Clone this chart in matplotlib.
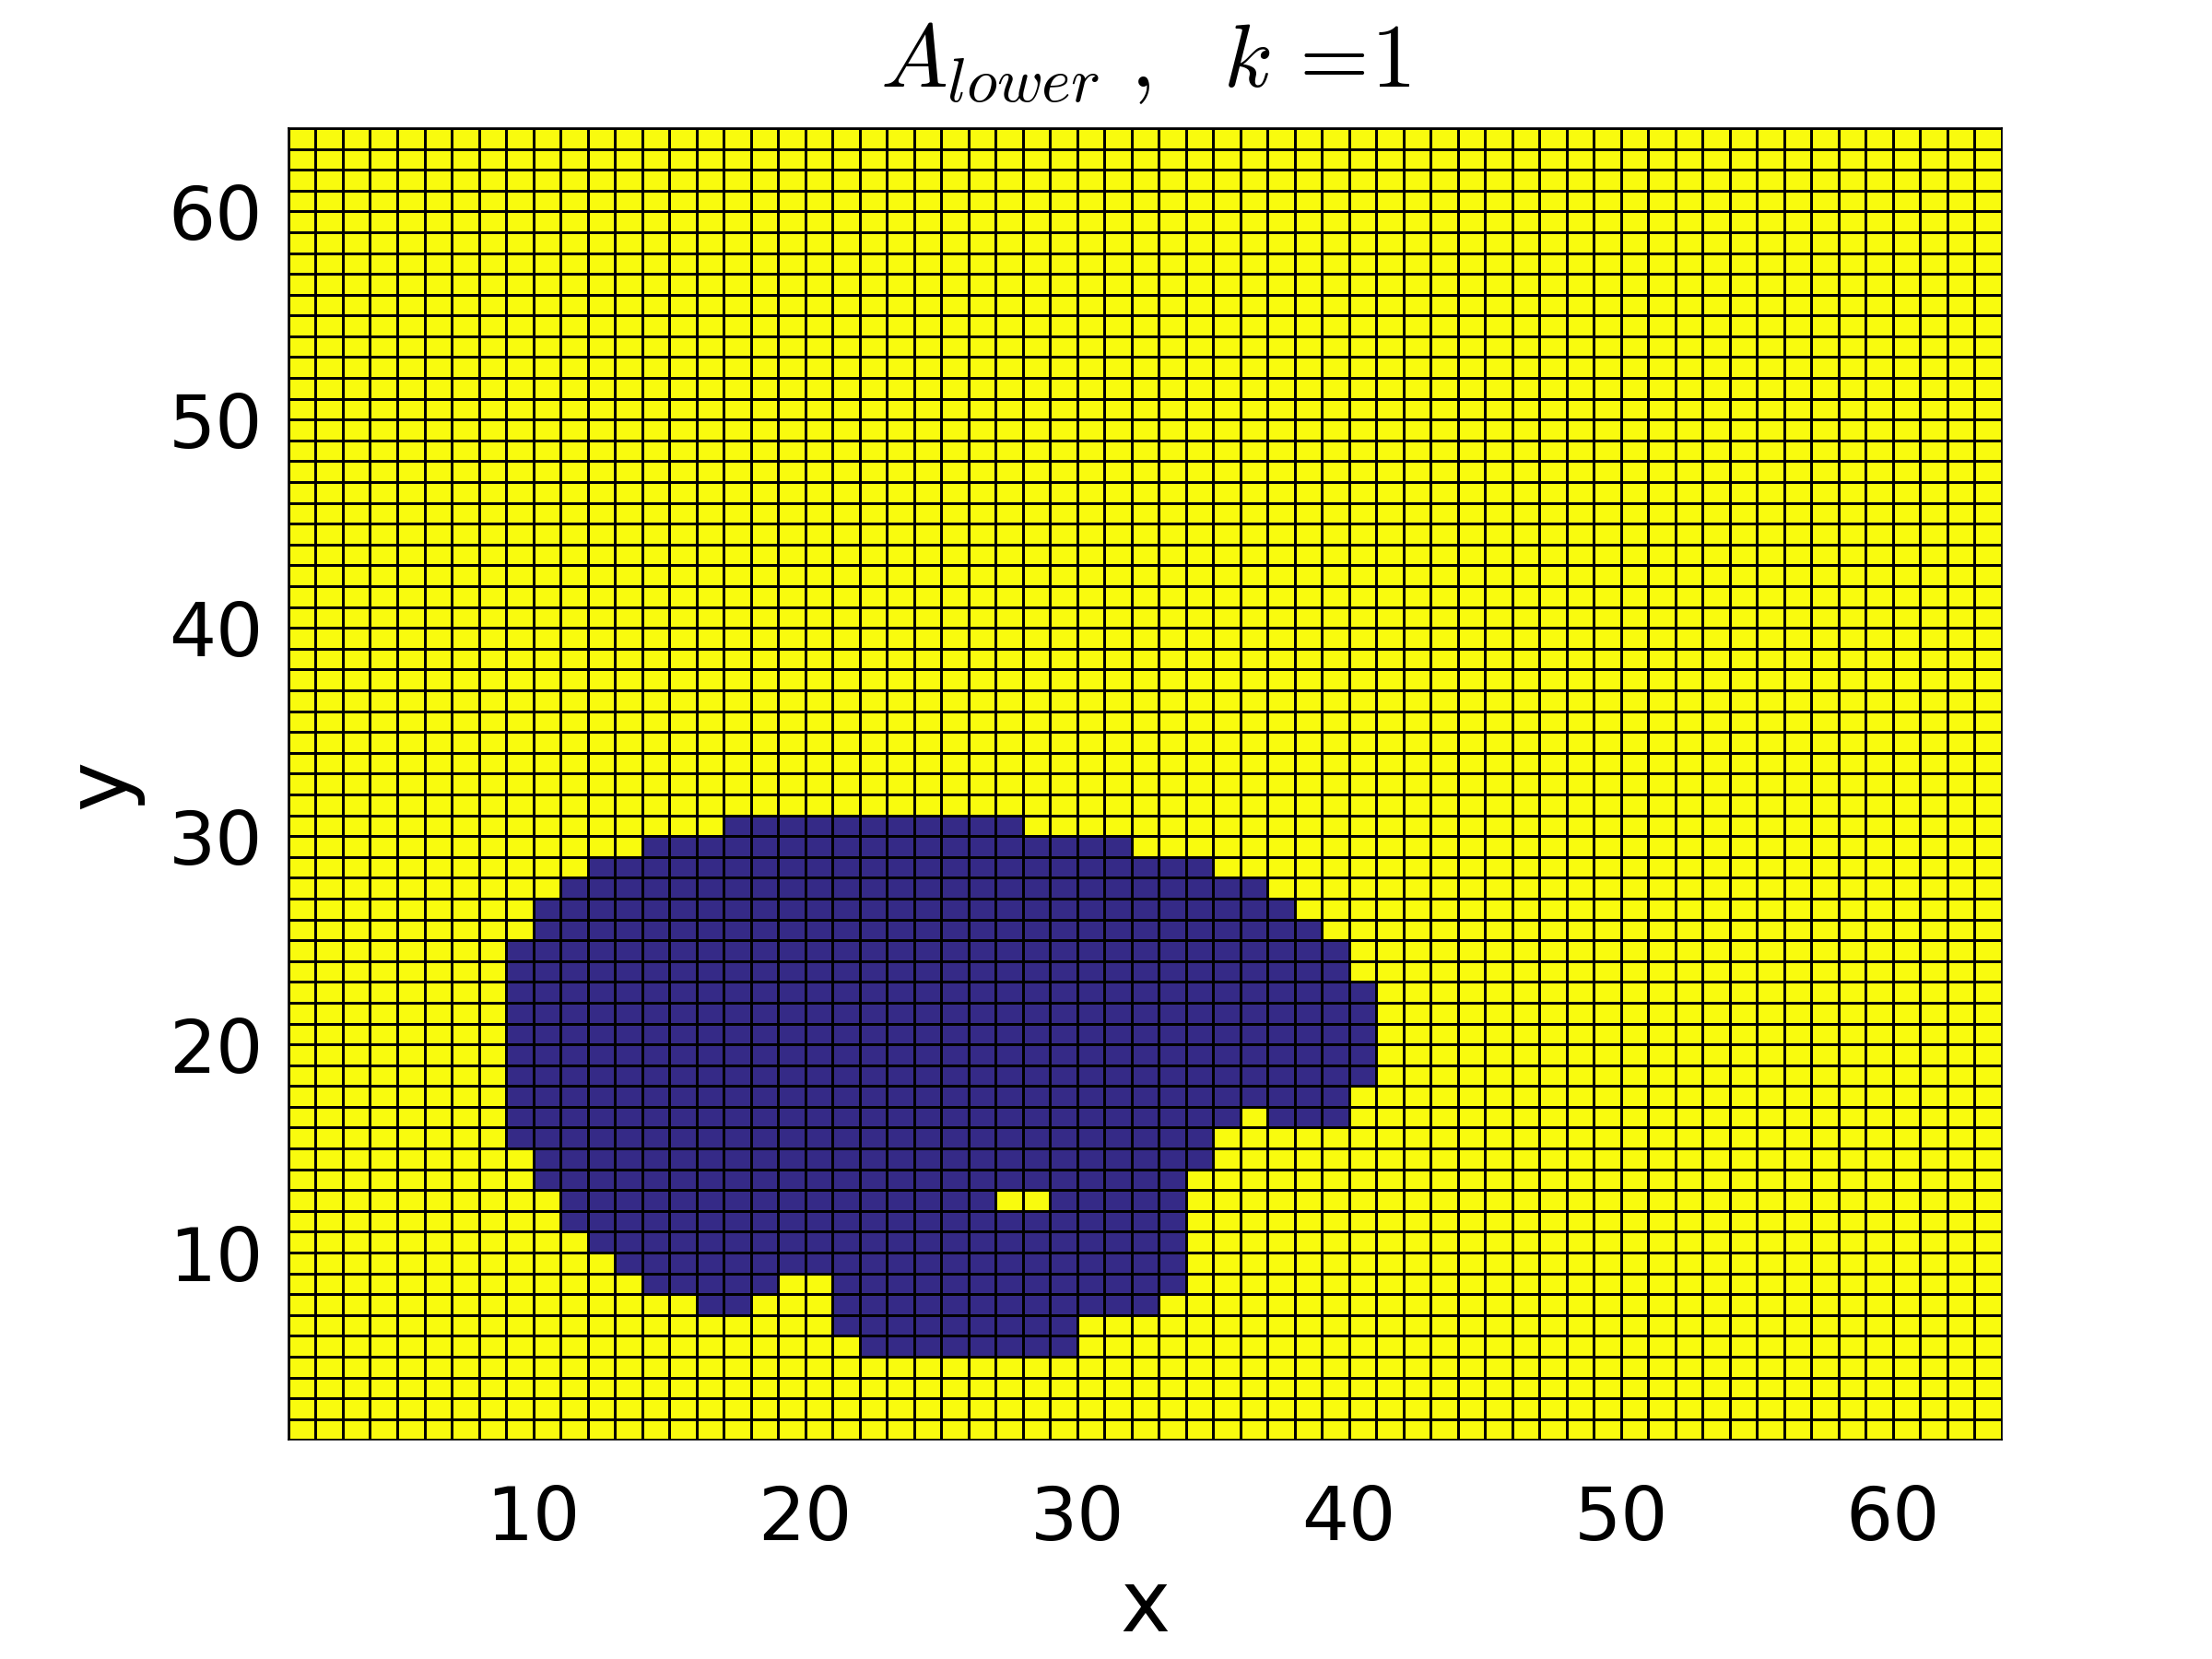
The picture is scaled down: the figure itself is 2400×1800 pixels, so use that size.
import numpy as np
import matplotlib
matplotlib.use("Agg")
import matplotlib.pyplot as plt
from matplotlib.colors import ListedColormap

plt.rcParams["mathtext.fontset"] = "cm"

# Grid definition (MATLAB-style pcolor on a 64x64 grid -> 63x63 cells)
n_nodes = 64

# Blob (value 0) given as runs of cell indices (inclusive) per cell row y
row_y = [30, 29, 28, 27, 26, 25, 24, 23, 22, 21, 20, 19, 18, 17, 16, 15, 14,
         13, 12, 11, 10, 9, 8, 7, 6, 5]
row_runs = [
    [(17, 27)],
    [(14, 31)],
    [(12, 34)],
    [(11, 36)],
    [(10, 37)],
    [(10, 38)],
    [(9, 39)],
    [(9, 39)],
    [(9, 40)],
    [(9, 40)],
    [(9, 40)],
    [(9, 40)],
    [(9, 40)],
    [(9, 39)],
    [(9, 35), (37, 39)],
    [(9, 34)],
    [(10, 34)],
    [(10, 33)],
    [(11, 26), (29, 33)],
    [(11, 33)],
    [(12, 33)],
    [(13, 33)],
    [(14, 18), (21, 33)],
    [(16, 17), (21, 32)],
    [(21, 29)],
    [(22, 29)],
]
x_ticks = [10, 20, 30, 40, 50, 60]
y_ticks = [10, 20, 30, 40, 50, 60]

# Build value matrix: 1 = yellow, 0 = blue
C = np.ones((n_nodes, n_nodes))
for y, runs in zip(row_y, row_runs):
    for a, b in runs:
        C[y - 1, a - 1:b] = 0.0
C = C[:-1, :-1]

xs = np.arange(1, n_nodes + 1)
ys = np.arange(1, n_nodes + 1)

cmap = ListedColormap(["#352A87", "#F9FB0E"])

fig = plt.figure(figsize=(12, 9), dpi=200)
ax = fig.add_axes([0.1304, 0.132, 0.7746, 0.7908])
ax.pcolormesh(xs, ys, C, cmap=cmap, vmin=0, vmax=1,
              edgecolors="black", linewidth=0.45, shading="flat")
ax.set_xlim(1, 64)
ax.set_ylim(1, 64)
ax.set_xticks(x_ticks)
ax.set_yticks(y_ticks)
ax.tick_params(length=0, labelsize=29, colors="black")
ax.tick_params(axis="x", pad=17)
ax.tick_params(axis="y", pad=10)
for s in ax.spines.values():
    s.set_linewidth(0.6)
    s.set_color("black")

ax.set_xlabel("x", fontsize=33, labelpad=4)
ax.set_ylabel("y", fontsize=33, labelpad=10)

ax.set_title(r"$A_{lower}\ ,\ \ k\,=\!1$", fontsize=35, pad=16)

fig.savefig("out.png", dpi=200, facecolor="white")
